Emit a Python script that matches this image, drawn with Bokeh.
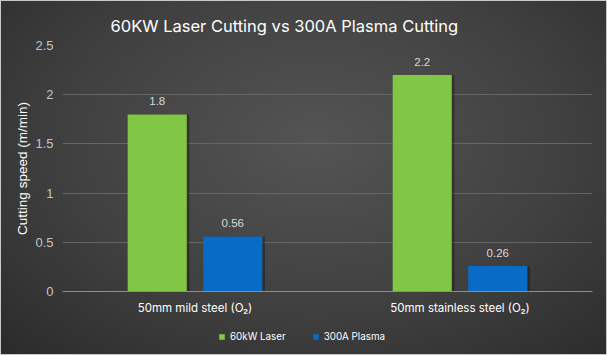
from bokeh.plotting import figure
from bokeh.layouts import column
from bokeh.models import FactorRange, Legend, LegendItem, ColumnDataSource, LabelSet, FixedTicker
from bokeh.core.properties import value
from bokeh.transform import dodge
from bokeh.embed import file_html
from bokeh.resources import INLINE

categories = ["50mm mild steel (O\u2082)", "50mm stainless steel (O\u2082)"]
series_names = ["60kW Laser", "300A Plasma"]
series_colors = ["#82c645", "#086bc6"]
laser = [1.8, 2.2]
plasma = [0.56, 0.26]
laser_labels = ["1.8", "2.2"]
plasma_labels = ["0.56", "0.26"]
y_ticks = [0, 0.5, 1, 1.5, 2, 2.5]
y_tick_labels = ["0", "0.5", "1", "1.5", "2", "2.5"]

src = ColumnDataSource(dict(cat=categories, laser=laser, plasma=plasma,
                            ll=laser_labels, pl=plasma_labels))

p = figure(width=607, height=317, x_range=FactorRange(factors=categories),
           y_range=(0, 2.5), output_backend="svg", toolbar_location=None,
           min_border_left=62, min_border_right=15, min_border_top=45, min_border_bottom=25)
p.background_fill_alpha = 0
p.border_fill_alpha = 0
p.outline_line_color = None

p.title.text = "60KW Laser Cutting vs 300A Plasma Cutting"
p.title.text_color = "#ffffff"
p.title.text_font = "Inter"
p.title.text_font_size = "16.5px"
p.title.text_font_style = "normal"
p.title.align = "left"
p.title.offset = 48
p.title.standoff = 19

W = 0.223
off = 0.1425
sh = 0.01
p.vbar(x=dodge("cat", -off + sh, range=p.x_range), top="laser", width=W, source=src,
       fill_color="black", fill_alpha=0.3, line_color=None)
p.vbar(x=dodge("cat", off + sh, range=p.x_range), top="plasma", width=W, source=src,
       fill_color="black", fill_alpha=0.3, line_color=None)
p.vbar(x=dodge("cat", -off, range=p.x_range), top="laser", width=W, source=src,
       fill_color=series_colors[0], line_color=None)
p.vbar(x=dodge("cat", off, range=p.x_range), top="plasma", width=W, source=src,
       fill_color=series_colors[1], line_color=None)

for col, lab, o in (("laser", "ll", -off), ("plasma", "pl", off)):
    ls = LabelSet(x=dodge("cat", o, range=p.x_range), y=col, text=lab, source=src,
                  text_align="center", text_baseline="bottom", y_offset=9,
                  text_color="#d8d8d8", text_font=value("Liberation Sans"),
                  text_font_size="11.5px")
    p.add_layout(ls)

p.xgrid.grid_line_color = None
p.ygrid.grid_line_color = "#666666"
p.ygrid.ticker = FixedTicker(ticks=y_ticks)

p.yaxis.ticker = FixedTicker(ticks=y_ticks)
p.yaxis.major_label_overrides = {t: l for t, l in zip(y_ticks, y_tick_labels)}
p.yaxis.axis_line_color = None
p.yaxis.major_tick_line_color = None
p.yaxis.minor_tick_line_color = None
p.yaxis.major_tick_out = 0
p.yaxis.major_tick_in = 0
p.yaxis.minor_tick_out = 0
p.yaxis.major_label_text_color = "#c4c4c4"
p.yaxis.major_label_text_font = "Liberation Sans"
p.yaxis.major_label_text_font_size = "13px"
p.yaxis.major_label_standoff = 9
p.yaxis.axis_label = "Cutting speed (m/min)"
p.yaxis.axis_label_text_color = "#ffffff"
p.yaxis.axis_label_text_font = "Liberation Sans"
p.yaxis.axis_label_text_font_size = "13.5px"
p.yaxis.axis_label_text_font_style = "normal"
p.yaxis.axis_label_standoff = 2

p.xaxis.axis_line_color = "#8e8e8e"
p.xaxis.major_tick_line_color = None
p.xaxis.minor_tick_line_color = None
p.xaxis.major_tick_out = 0
p.xaxis.major_tick_in = 0
p.xaxis.minor_tick_out = 0
p.xaxis.major_label_text_color = "#ffffff"
p.xaxis.major_label_text_font = "Inter"
p.xaxis.major_label_text_font_size = "11.5px"
p.xaxis.major_label_standoff = 9

# legend strip below the chart
lg = figure(width=607, height=38, output_backend="svg", toolbar_location=None,
            x_axis_location=None, y_axis_location=None,
            min_border_left=62, min_border_right=15, min_border_top=0, min_border_bottom=0)
lg.background_fill_alpha = 0
lg.border_fill_alpha = 0
lg.outline_line_color = None
lg.grid.visible = False
items = []
for name, color in zip(series_names, series_colors):
    r = lg.vbar(x=[0], top=[float("nan")], width=0.5, fill_color=color, line_color=None)
    items.append(LegendItem(label=name, renderers=[r]))
legend = Legend(items=items, orientation="horizontal", location=(156, 13))
legend.background_fill_alpha = 0
legend.border_line_color = None
legend.label_text_color = "#ffffff"
legend.label_text_font = "Inter"
legend.label_text_font_size = "9.8px"
legend.glyph_width = 7
legend.glyph_height = 7
legend.label_standoff = 5
legend.spacing = 26
legend.padding = 0
legend.margin = 0
lg.add_layout(legend)

layout = column(p, lg, spacing=0)
layout.styles = {"background": "radial-gradient(ellipse 75% 85% at 52% 40%, #545454 0%, #404040 55%, #2a2a2a 100%)",
                 "box-shadow": "inset 0 0 0 1px #c8c8c8"}

open("out.html", "w").write(file_html(layout, INLINE))
